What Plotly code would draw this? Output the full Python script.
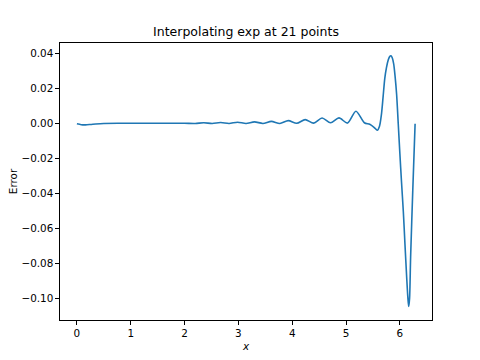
import plotly.graph_objects as go

# Points (x, interpolation error)
x_vals = [0.00, 0.08, 0.16, 0.25, 0.35, 0.50, 0.80, 1.10, 1.40, 1.70, 2.00,
          2.199, 2.356, 2.513, 2.670, 2.827, 2.985, 3.142, 3.299, 3.456, 3.613,
          3.770, 3.927, 4.084, 4.241, 4.398, 4.555, 4.712, 4.869, 5.027, 5.184,
          5.341, 5.44, 5.52, 5.58, 5.62, 5.66, 5.69, 5.72, 5.75, 5.785, 5.81,
          5.835, 5.86, 5.885, 5.91, 5.94, 5.97, 6.00, 6.03, 6.064, 6.095,
          6.127, 6.15, 6.164, 6.18, 6.20, 6.24, 6.283]
err_vals = [0.0000, -0.0005, -0.0006, -0.0004, -0.0001, 0.0002, 0.0003, 0.0003, 0.0003, 0.0003, 0.0003,
            0.0002, 0.0006, 0.0002, 0.0007, 0.0002, 0.0009, 0.0002, 0.0011, 0.0002, 0.0014,
            0.0002, 0.0018, 0.0003, 0.0024, 0.0004, 0.0033, 0.0006, 0.0034, 0.0004, 0.0072,
            0.0006, -0.0003, -0.0020, -0.0037, -0.0015, 0.0060, 0.0160, 0.0260, 0.0320, 0.0366, 0.0384,
            0.0389, 0.0376, 0.0342, 0.0275, 0.0166, 0.0000, -0.0170, -0.0330, -0.0500, -0.0690,
            -0.0880, -0.1000, -0.1045, -0.1000, -0.0760, -0.0380, 0.0000]

y_ticks = [0.04, 0.02, 0.00, -0.02, -0.04, -0.06, -0.08, -0.10]
y_tick_text = ["0.04", "0.02", "0.00", "\u22120.02", "\u22120.04", "\u22120.06", "\u22120.08", "\u22120.10"]
x_ticks = [0, 1, 2, 3, 4, 5, 6]

fig = go.Figure()
fig.add_trace(go.Scatter(x=x_vals, y=err_vals, mode="lines",
                         line=dict(color="#1f77b4", width=1.6, shape="spline", smoothing=0.8),
                         showlegend=False))

font = dict(family="DejaVu Sans", size=10.4, color="black")
fig.update_layout(
    width=480, height=360,
    margin=dict(l=60, r=48, t=43, b=40, autoexpand=False),
    paper_bgcolor="white", plot_bgcolor="white",
    font=font,
    title=dict(text="Interpolating exp at 21 points", x=0.5125, xanchor="center",
               y=(360 - 32) / 360, yanchor="middle", yref="container",
               font=dict(family="DejaVu Sans", size=12.5, color="black")),
)
axis_common = dict(showline=True, linecolor="black", linewidth=1, mirror=True,
                   ticks="outside", ticklen=3.6, tickwidth=1, tickcolor="black",
                   showgrid=False, zeroline=False, tickfont=font, automargin=False)
fig.update_xaxes(range=[-0.314, 6.597], tickvals=x_ticks,
                 title=dict(text="<i>x</i>", font=font, standoff=4), **axis_common)
fig.update_yaxes(range=[-0.1122, 0.0462], tickvals=y_ticks, ticktext=y_tick_text,
                 title=dict(text="Error", font=font, standoff=1), **axis_common)

fig.write_html("out.html", config={"displayModeBar": False},
               post_script="document.body.style.margin='0';document.body.style.overflow='hidden';")
